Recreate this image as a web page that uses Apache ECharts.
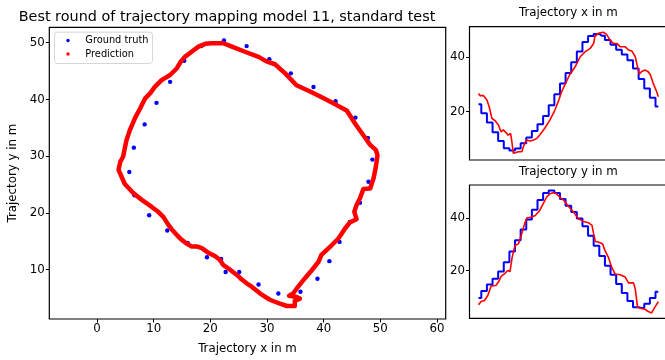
<!DOCTYPE html>
<html lang="en">

<head>
    <meta charset="UTF-8">
    <title>Trajectory mapping</title>
    <script src="https://cdn.jsdelivr.net/npm/echarts@6.0.0/dist/echarts.min.js"></script>
    <style>
        html, body { margin: 0; background: #fff; overflow: hidden; }
    </style>
</head>

<body>
    <!-- a little wider than the window: the right panels run off the edge like the original -->
    <div id="main" style="width: 672px;height:360px;"></div>

    <script>
        // ground truth positions, one per time step
        var gtX = [22.7, 19.4, 16.0, 12.4, 9.2, 6.6, 5.7, 6.5, 8.4, 10.5, 12.9, 15.4, 18.4, 22.4, 26.4, 30.4, 34.2,
            38.2, 42.1, 45.6, 47.8, 48.6, 47.9, 46.4, 44.6, 42.8, 41.0, 38.9, 35.9, 32.0, 28.5, 25.1, 21.9];
        var gtY = [9.6, 12.2, 14.7, 16.9, 19.6, 23.1, 27.2, 31.5, 35.6, 39.4, 43.1, 46.8, 49.4, 50.4, 49.4, 47.1, 44.6,
            42.2, 39.7, 36.8, 33.2, 29.4, 25.5, 21.8, 18.4, 14.9, 11.5, 8.4, 6.1, 5.8, 7.4, 9.6, 11.9];

        // predicted path (x, y) as traced in the big plot
        var predPathX = [27.3, 26.4, 25.5, 24.9, 23.2, 22.3, 21.7, 20.8, 19.6, 18.5, 17.6, 16.7, 15.8, 14.9, 14.1, 13.2,
            12.6, 11.7, 10.8, 9.6, 7.9, 6.4, 4.9, 3.8, 4.1, 4.6, 4.9, 5.2, 5.8, 6.7, 7.6, 8.5, 9.4, 10.2, 11.4, 12.9,
            14.1, 14.8, 15.5, 16.7, 17.9, 19.1, 20.2, 22.3, 23.8, 26.1, 28.5, 29.9, 31.4, 33.2, 35.2, 37.6, 40.0, 42.3,
            44.1, 45.5, 47.0, 48.2, 49.2, 49.5, 49.2, 48.8, 48.2, 47.0, 46.4, 45.8, 45.4, 45.8, 44.6, 43.8, 42.6, 41.4,
            39.6, 39.1, 37.9, 36.7, 35.5, 34.6, 33.9, 35.2, 35.8, 34.9, 34.9, 33.5, 32.3, 30.5, 28.8, 27.3, 26.4, 25.5];
        var predPathY = [7.0, 7.6, 8.3, 8.9, 10.2, 10.8, 11.7, 12.4, 13.0, 13.8, 14.1, 14.1, 14.6, 15.3, 16.1, 17.1,
            17.9, 19.3, 20.2, 21.1, 22.3, 23.5, 25.1, 27.6, 29.0, 29.9, 31.4, 32.8, 34.6, 36.7, 38.4, 40.2, 41.1, 42.2,
            43.4, 44.3, 45.5, 46.7, 47.5, 48.4, 49.3, 49.8, 49.9, 49.9, 49.3, 48.4, 47.5, 46.7, 46.2, 44.6, 42.5, 41.4,
            40.2, 39.0, 38.0, 35.8, 33.7, 32.0, 31.1, 30.2, 28.1, 26.1, 24.3, 24.2, 22.6, 21.4, 20.2, 18.9, 18.3, 17.3,
            15.5, 14.3, 12.6, 11.4, 9.9, 8.5, 7.0, 5.8, 5.4, 5.2, 4.9, 4.5, 3.6, 3.6, 4.0, 4.7, 5.8, 7.0, 7.6, 8.3];

        // predicted x over time (time in ground-truth steps)
        var redXT = [0, 0.3, 0.9, 1.5, 1.9, 2.4, 3.0, 3.55, 4.0, 4.4, 4.85, 5.3, 5.7, 5.9, 6.2, 6.5, 7.1, 7.7, 8.2,
            8.6, 9.2, 9.8, 10.4, 10.9, 11.8, 12.7, 13.6, 14.3, 14.8, 15.4, 16.2, 17.2, 18.1, 19.0, 19.9, 20.5, 20.7,
            21.3, 22.2, 22.8, 23.4, 24.0, 24.6, 25.2, 26.1, 26.7, 27.3, 27.9, 28.3, 28.6, 29.0, 29.6, 30.2, 30.6,
            31.1, 31.7, 32.0];
        var redX = [26.7, 25.9, 25.9, 24.3, 21.8, 17.5, 16.6, 15.1, 12.6, 13.3, 12.4, 11.4, 12.0, 9.6, 4.7, 4.1, 5.3,
            5.3, 8.4, 9.6, 9.2, 9.6, 10.2, 11.4, 13.9, 16.9, 20.6, 24.3, 27.4, 30.0, 33.5, 36.5, 40.2, 42.1, 43.3,
            45.1, 47.6, 48.8, 49.2, 48.4, 46.3, 45.1, 45.1, 43.9, 43.9, 42.7, 42.3, 40.2, 36.5, 33.8, 34.7, 35.3,
            34.7, 33.5, 30.4, 27.4, 25.5];

        // predicted y over time
        var redYT = [0, 0.47, 1.07, 1.66, 2.25, 3.08, 3.55, 4.02, 4.6, 5.2, 5.6, 6.0, 6.5, 7.1, 7.6, 8.2, 8.6, 9.5,
            10.1, 10.9, 11.5, 12.1, 12.7, 13.3, 13.9, 14.5, 15.2, 16.0, 16.9, 17.8, 18.7, 19.6, 20.2, 20.5, 20.8,
            21.3, 22.1, 22.5, 23.1, 23.7, 24.3, 25.2, 26.1, 26.7, 27.6, 27.9, 28.3, 28.8, 29.7, 30.2, 30.8, 31.4, 32.0];
        var redY = [7.0, 8.2, 8.6, 10.5, 14.1, 14.3, 15.6, 17.8, 18.7, 20.0, 19.6, 25.1, 29.5, 30.1, 33.3, 37.7, 39.9,
            40.3, 40.9, 42.8, 45.3, 47.8, 49.1, 49.5, 49.1, 47.8, 46.6, 44.4, 42.2, 39.6, 38.6, 38.1, 37.1, 33.9,
            31.0, 30.8, 30.1, 27.6, 25.1, 21.3, 18.7, 18.4, 17.5, 15.3, 15.3, 13.0, 6.1, 5.7, 5.2, 4.4, 3.9, 6.1, 8.2];

        // tick labels
        var mainXTicks = [0, 10, 20, 30, 40, 50, 60];
        var mainYTicks = [10, 20, 30, 40, 50];
        var sideYTicks = [20, 40];

        var font = 'DejaVu Sans';
        var myChart = echarts.init(document.getElementById('main'));

        function pairs(xs, ys) {
            return xs.map(function (v, i) { return [v, ys[i]]; });
        }
        function steps(vals) {
            return vals.map(function (v, i) { return [i, v]; });
        }

        var tickStyle = { show: true, inside: false, length: 3.5, lineStyle: { color: '#000', width: 1 } };
        var labelStyle = { color: '#000', fontFamily: font, fontSize: 11.8 };
        var noLine = { show: false, onZero: false };

        function sideY(idx, min, max) {
            return {
                type: 'value', gridIndex: idx, min: min, max: max,
                axisLine: noLine, splitLine: { show: false },
                axisTick: Object.assign({ customValues: sideYTicks }, tickStyle),
                axisLabel: Object.assign({ customValues: sideYTicks, margin: 4.5 }, labelStyle)
            };
        }
        function sideX(idx) {
            return {
                type: 'value', gridIndex: idx, min: -1.6, max: 33.6,
                axisLine: noLine, axisTick: { show: false }, axisLabel: { show: false },
                splitLine: { show: false }
            };
        }

        var option = {
            animation: false,
            backgroundColor: '#fff',
            textStyle: { fontFamily: font, color: '#000' },
            title: [
                {
                    text: 'Best round of trajectory mapping model 11, standard test', left: 227, top: 10,
                    textAlign: 'center', padding: 0,
                    textStyle: { fontFamily: font, fontSize: 14.4, fontWeight: 'normal', color: '#000' }
                },
                {
                    text: 'Trajectory x in m', left: 568.4, top: 6.8, textAlign: 'center', padding: 0,
                    textStyle: { fontFamily: font, fontSize: 11.8, fontWeight: 'normal', color: '#000' }
                },
                {
                    text: 'Trajectory y in m', left: 568.4, top: 165.5, textAlign: 'center', padding: 0,
                    textStyle: { fontFamily: font, fontSize: 11.8, fontWeight: 'normal', color: '#000' }
                }
            ],
            legend: {
                orient: 'vertical', left: 54.5, top: 32.2,
                padding: [2.3, 4, 3.5, 11.8], itemGap: 1.5,
                itemWidth: 3.4, itemHeight: 3.4, icon: 'circle',
                backgroundColor: 'rgba(255,255,255,0.8)', borderColor: '#d6d6d6', borderWidth: 1, borderRadius: 3,
                textStyle: { fontFamily: font, fontSize: 9.8, lineHeight: 12, color: '#000', padding: [0, 0, 0, 10.6] },
                data: ['Ground truth', 'Prediction']
            },
            grid: [
                { left: 49.3, top: 27.3, width: 396.4, height: 291.7, show: true, borderColor: '#000', borderWidth: 1.2, outerBoundsMode: 'none' },
                { left: 469.5, top: 26.7, width: 197.8, height: 133.3, show: true, borderColor: '#000', borderWidth: 1.2, outerBoundsMode: 'none' },
                { left: 469.5, top: 185, width: 197.8, height: 133.3, show: true, borderColor: '#000', borderWidth: 1.2, outerBoundsMode: 'none' }
            ],
            xAxis: [
                {
                    type: 'value', gridIndex: 0, min: -8.42, max: 61.53,
                    name: 'Trajectory x in m', nameLocation: 'middle', nameGap: 24,
                    nameTextStyle: labelStyle,
                    axisLine: noLine, splitLine: { show: false },
                    axisTick: Object.assign({ customValues: mainXTicks }, tickStyle),
                    axisLabel: Object.assign({ customValues: mainXTicks, margin: 4 }, labelStyle)
                },
                sideX(1),
                sideX(2)
            ],
            yAxis: [
                {
                    type: 'value', gridIndex: 0, min: 1.31, max: 52.71,
                    name: 'Trajectory y in m', nameLocation: 'middle', nameGap: 30,
                    nameTextStyle: labelStyle,
                    axisLine: noLine, splitLine: { show: false },
                    axisTick: Object.assign({ customValues: mainYTicks }, tickStyle),
                    axisLabel: Object.assign({ customValues: mainYTicks, margin: 4.6 }, labelStyle)
                },
                sideY(1, 2.24, 51.25),
                sideY(2, 1.86, 52.45)
            ],
            series: [
                {
                    name: 'Ground truth', type: 'scatter', xAxisIndex: 0, yAxisIndex: 0,
                    symbol: 'circle', symbolSize: 4.4,
                    itemStyle: { color: '#0000ff', opacity: 1 },
                    data: pairs(gtX, gtY)
                },
                {
                    name: 'Prediction', type: 'line', xAxisIndex: 0, yAxisIndex: 0,
                    showSymbol: false, symbol: 'none',
                    itemStyle: { color: '#ff0000' },
                    lineStyle: { color: '#ff0000', width: 4.5, cap: 'round', join: 'round' },
                    data: pairs(predPathX, predPathY)
                },
                {
                    type: 'line', xAxisIndex: 1, yAxisIndex: 1, step: 'middle', symbol: 'none',
                    lineStyle: { color: '#0000ff', width: 2 },
                    data: steps(gtX)
                },
                {
                    type: 'line', xAxisIndex: 1, yAxisIndex: 1, symbol: 'none',
                    lineStyle: { color: '#ff0000', width: 1.6 },
                    data: pairs(redXT, redX)
                },
                {
                    type: 'line', xAxisIndex: 2, yAxisIndex: 2, step: 'middle', symbol: 'none',
                    lineStyle: { color: '#0000ff', width: 2 },
                    data: steps(gtY)
                },
                {
                    type: 'line', xAxisIndex: 2, yAxisIndex: 2, symbol: 'none',
                    lineStyle: { color: '#ff0000', width: 1.6 },
                    data: pairs(redYT, redY)
                }
            ]
        };

        myChart.setOption(option);
    </script>
</body>

</html>
